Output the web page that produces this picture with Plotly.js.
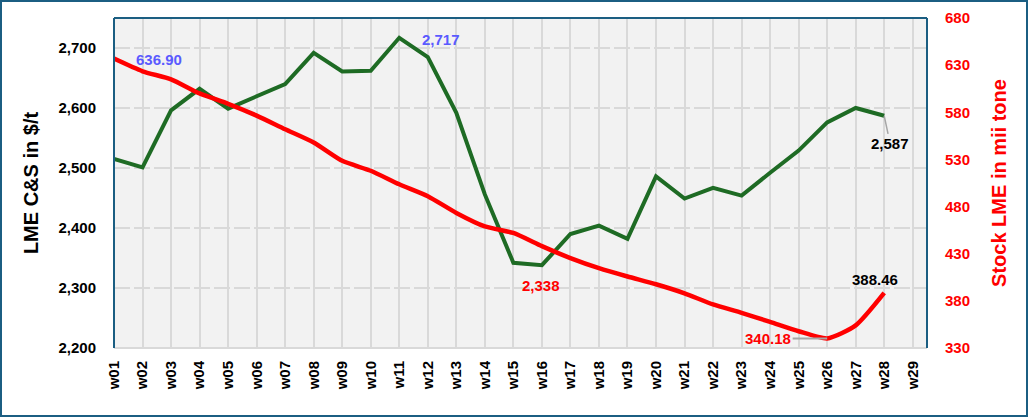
<!DOCTYPE html>
<html><head><meta charset="utf-8">
<script src="https://cdn.plot.ly/plotly-3.0.1.min.js"></script>
<style>
html,body{margin:0;padding:0;background:#fff;}
#wrap{width:1024px;height:413px;border:2px solid #1b5e82;}
#chart{width:1024px;height:413px;}
</style></head>
<body><div id="wrap"><div id="chart"></div></div>
<script>
const weeks = ['w01','w02','w03','w04','w05','w06','w07','w08','w09','w10','w11','w12','w13','w14','w15','w16','w17','w18','w19','w20','w21','w22','w23','w24','w25','w26','w27','w28','w29'];
const lmePrice = [2515,2501,2596,2632,2599,2619,2640,2692,2661,2662,2717,2685,2592,2456,2342,2338,2390,2404,2382,2486,2449,2467,2454,2492,2529,2576,2600,2587];
const lmeStock = [636.90,623.5,615,600,589,576.5,562,548,528.5,518,503.6,491,473.3,459,452,438,425.3,414.6,405.8,397.6,388,376.2,367.3,357.7,347.8,340.18,354,388.46];
const leftTicks = [2200,2300,2400,2500,2600,2700];
const rightTicks = [330,380,430,480,530,580,630,680];

const n = lmePrice.length;
const xs = weeks.slice(0, n);
const fmt = v => v.toLocaleString('en-US');
const FONT = 'Liberation Sans, Arial, sans-serif';

const traces = [
  {x: xs, y: lmePrice, type:'scatter', mode:'lines', yaxis:'y',
   line:{color:'#1e6b24', width:4}, hoverinfo:'skip'},
  {x: xs, y: lmeStock, type:'scatter', mode:'lines', yaxis:'y2',
   line:{color:'#ff0000', width:4.5, shape:'spline', smoothing:0.6}, hoverinfo:'skip'}
];

const iMax = lmePrice.indexOf(Math.max(...lmePrice));
const iMin = lmePrice.indexOf(Math.min(...lmePrice));
const sMin = lmeStock.indexOf(Math.min(...lmeStock));
const last = n - 1;

const annFont = (c) => ({family: FONT, size: 15, color: c, weight:'bold'});
const annotations = [
  {x: xs[0], y: lmeStock[0], xref:'x', yref:'y2', text: lmeStock[0].toFixed(2),
   showarrow:false, xshift:45, yshift:-1, font:annFont('#5a5aff')},
  {x: xs[iMax], y: lmePrice[iMax], xref:'x', yref:'y', text: fmt(lmePrice[iMax]),
   showarrow:false, xshift:42, yshift:-2, font:annFont('#5a5aff')},
  {x: xs[last], y: lmePrice[last], xref:'x', yref:'y', text: fmt(lmePrice[last]),
   showarrow:true, arrowhead:0, arrowwidth:1.5, arrowcolor:'#a6a6a6', ax:6, ay:28,
   font:annFont('#000')},
  {x: xs[iMin], y: lmePrice[iMin], xref:'x', yref:'y', text: fmt(lmePrice[iMin]),
   showarrow:false, xshift:-1, yshift:-20, font:annFont('#ff0000')},
  {x: xs[sMin], y: lmeStock[sMin], xref:'x', yref:'y2', text: lmeStock[sMin].toFixed(2),
   showarrow:true, arrowhead:0, arrowwidth:2, arrowcolor:'#a6a6a6', ax:-59, ay:0,
   font:annFont('#ff0000')},
  {x: xs[last], y: lmeStock[last], xref:'x', yref:'y2', text: lmeStock[last].toFixed(2),
   showarrow:false, xshift:-9, yshift:13, font:annFont('#000')}
];

const shapes = [
  {type:'line', xref:'paper', yref:'paper', x0:0, x1:1, y0:0, y1:0, line:{color:'#d9d9d9', width:2}, layer:'below'},
  {type:'line', xref:'paper', yref:'paper', x0:0, x1:0, y0:0, y1:1, line:{color:'#1b5e82', width:2}},
  {type:'line', xref:'paper', yref:'paper', x0:0, x1:1, y0:1, y1:1, line:{color:'#1b5e82', width:2}},
  {type:'line', xref:'paper', yref:'paper', x0:1, x1:1, y0:0, y1:1, line:{color:'#1b5e82', width:2}}
];

const layout = {
  width:1024, height:413,
  margin:{l:112, r:99, t:16, b:67},
  paper_bgcolor:'#ffffff', plot_bgcolor:'#f2f2f2',
  showlegend:false,
  font:{family:FONT},
  xaxis:{type:'category', categoryorder:'array', categoryarray:weeks,
    range:[0, weeks.length - 0.5], showgrid:true, gridcolor:'#d9d9d9', gridwidth:2,
    tickangle:-90, ticks:'outside', ticklen:6, tickcolor:'rgba(0,0,0,0)',
    tickfont:{family:FONT, size:15, color:'#000', weight:'bold'},
    zeroline:false, showline:false, fixedrange:true},
  yaxis:{range:[2200, 2750], tickvals:leftTicks, ticktext:leftTicks.map(fmt),
    showgrid:true, gridcolor:'#d9d9d9', gridwidth:2, griddash:'16px,4px',
    ticks:'outside', ticklen:14, tickcolor:'rgba(0,0,0,0)',
    tickfont:{family:FONT, size:15, color:'#000', weight:'bold'},
    title:{text:'LME C&S in $/t', font:{family:FONT, size:20, color:'#000', weight:'bold'}, standoff:14},
    zeroline:false, showline:false},
  yaxis2:{range:[330, 680], tickvals:rightTicks, overlaying:'y', side:'right',
    showgrid:false, ticks:'outside', ticklen:14, tickcolor:'rgba(0,0,0,0)',
    tickfont:{family:FONT, size:15, color:'#ff0000', weight:'bold'},
    title:{text:'Stock LME in mii tone', font:{family:FONT, size:20, color:'#ff0000', weight:'bold'}, standoff:22},
    zeroline:false, showline:false},
  annotations: annotations,
  shapes: shapes
};

Plotly.newPlot('chart', traces, layout, {displayModeBar:false, staticPlot:true});
</script></body></html>
